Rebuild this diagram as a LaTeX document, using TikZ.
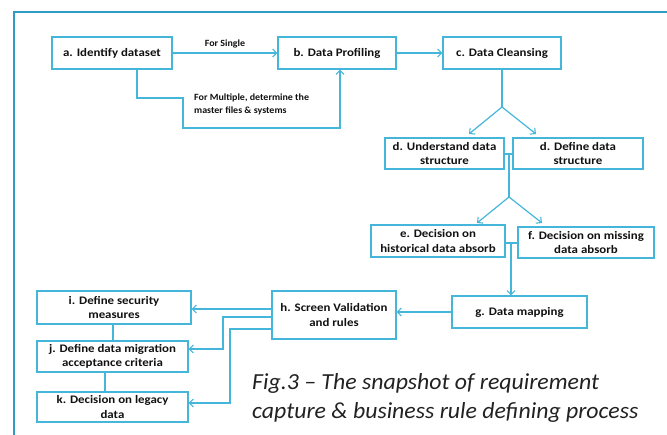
\documentclass[tikz,border=0pt]{standalone}
\usepackage{fontspec}
\setmainfont{Carlito}[BoldFont={Carlito Bold},ItalicFont={Carlito Italic}]
\newfontfamily\boxfont{Carlito Bold}[FakeStretch=1.12]
\newfontfamily\lblfont{Carlito Bold}[FakeStretch=1.05]
\newfontfamily\capfont{Carlito Italic}[FakeStretch=1.035]
\usetikzlibrary{arrows.meta}
\definecolor{framec}{HTML}{2E9CC4}
\definecolor{linec}{HTML}{45B5DA}
\definecolor{txtc}{HTML}{111111}
\definecolor{capc}{HTML}{222222}
\begin{document}
\begin{tikzpicture}[x=1pt,y=-1pt,
  box/.style={draw=linec,line width=1.3pt,fill=white,align=center,inner sep=1pt,
    font=\boxfont\fontsize{11.5}{14.5}\selectfont,text=txtc},
  conn/.style={draw=linec,line width=1.2pt},
  arr/.style={conn,-{Straight Barb[length=4pt,width=8pt,line width=1.1pt]}},
  lbl/.style={font=\lblfont\fontsize{9.5}{13}\selectfont,text=txtc,align=left,inner sep=0pt}]
\useasboundingbox (0,0) rectangle (667,435);
\begin{scope}
\clip (0,0) rectangle (667,435);
\draw[framec,line width=2.6pt] (14,12) rectangle (700,470);
\end{scope}
% nodes
\node[box,minimum width=120,minimum height=32] (a) at (112,53) {a. Identify dataset};
\node[box,minimum width=118,minimum height=32] (b) at (337,53) {b. Data Profiling};
\node[box,minimum width=118,minimum height=32] (c) at (502,53) {c. Data Cleansing};
\node[box,minimum width=119,minimum height=31] (d1) at (444.5,153.5) {d. Understand data\\structure};
\node[box,minimum width=130,minimum height=31] (d2) at (578,153.5) {d. Define data\\structure};
\node[box,minimum width=134,minimum height=32] (e) at (438,241) {e. Decision on\\historical data absorb};
\node[box,minimum width=136,minimum height=31] (f) at (586,242.5) {f. Decision on missing\\data absorb};
\node[box,minimum width=135,minimum height=32] (g) at (519.5,312) {g. Data mapping};
\node[box,minimum width=124,minimum height=48] (h) at (334,315) {h. Screen Validation\\and rules};
\node[box,minimum width=154,minimum height=33] (i) at (114,307.5) {i. Define security\\measures};
\node[box,minimum width=151,minimum height=31] (j) at (112.5,356.5) {j. Define data migration\\acceptance criteria};
\node[box,minimum width=151,minimum height=30] (k) at (112.5,407) {k. Decision on legacy\\data};
% coordinates
\coordinate (cA) at (502,107);
\coordinate (dL) at (469,134);
\coordinate (dR) at (536,134);
\coordinate (dJ) at (509,154);
\coordinate (dA) at (509,197);
\coordinate (eL) at (477,223);
\coordinate (fR) at (542,223);
\coordinate (eJ) at (511,243);
\coordinate (mA) at (137,98);
\coordinate (mB) at (183,98);
\coordinate (mC) at (183,128);
\coordinate (mD) at (340,128);
\coordinate (jA) at (223,317);
\coordinate (jB) at (223,349);
\coordinate (kA) at (230,329);
\coordinate (kB) at (230,403);
% connectors
\draw[arr] (a.east) -- (b.west) node[lbl,midway,above=4pt] (l1) {For Single};
\draw[arr] (mA |- a.south) -- (mA) -- (mB) -- (mC) -- (mD) -- (mD |- b.south);
\node[lbl,anchor=north west] (l2) at (194,94) {For  Multiple, determine the\\master files \& systems};
\draw[arr] (b.east) -- (c.west);
\draw[conn] (c.south) -- (cA);
\draw[arr] (cA) -- (dL);
\draw[arr] (cA) -- (dR);
\draw[conn] (dJ -| d1.east) -- (dJ -| d2.west);
\draw[conn] (dJ) -- (dA);
\draw[arr] (dA) -- (eL);
\draw[arr] (dA) -- (fR);
\draw[conn] (eJ -| e.east) -- (eJ -| f.west);
\draw[arr] (eJ) -- (eJ |- g.north);
\draw[arr] (g.west |- 0,312) -- (h.east |- 0,312);
\draw[arr] (h.west |- 0,309) -- (i.east |- 0,309);
\draw[arr] (h.west |- jA) -- (jA) -- (jB) -- (j.east |- jB);
\draw[arr] (h.west |- kA) -- (kA) -- (kB) -- (k.east |- kB);
\draw[conn] (113,0 |- i.south) -- (113,0 |- j.north);
\draw[conn] (105,0 |- j.south) -- (105,0 |- k.north);
% caption
\node[font=\capfont\fontsize{23}{29}\selectfont,text=capc,align=left,anchor=north west,inner sep=0pt] (cap) at (252,373) {Fig.3 – The snapshot  of requirement\\capture \& business rule defining process};
\end{tikzpicture}
\end{document}
